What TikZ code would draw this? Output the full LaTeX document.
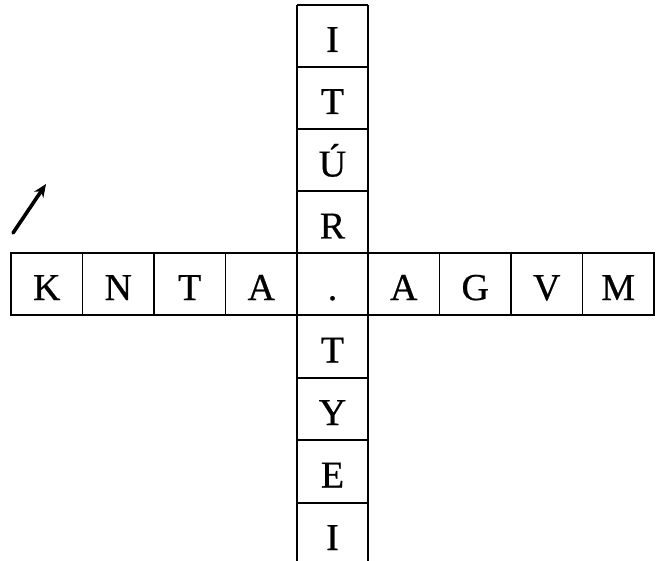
\documentclass[tikz,border=0pt]{standalone}
\usepackage{fontspec}
\setmainfont{Liberation Serif}[FakeBold=0.6]
\usetikzlibrary{arrows.meta}
\begin{document}
\begin{tikzpicture}[x=1pt,y=-1pt,
  grid/.style={line width=1.3pt, black},
  letter/.style={anchor=base, inner sep=0pt, font=\fontsize{38}{42}\selectfont},
  pointer/.style={line width=3.6pt, line cap=round, -{Stealth[length=13pt,width=11pt]}}]
\useasboundingbox (0,0) rectangle (658,561);
% horizontal word
\draw[grid] (11,253) rectangle (654,315);
\foreach \x in {82.5,154,225.5,297,368,439.5,511,582.5} \draw[grid] (\x,253) -- (\x,315);
% vertical word
\draw[grid] (297,5) -- (297,561);
\draw[grid] (368,5) -- (368,561);
\foreach \y in {5,67,129,191,378,440,503} \draw[grid] (297,\y) -- (368,\y);
% letters of the row (baseline at 300)
\node[letter] (r1) at (46.75,300) {K};
\node[letter] (r2) at (118.25,300) {N};
\node[letter] (r3) at (189.75,300) {T};
\node[letter] (r4) at (261.25,300) {A};
\node[letter] (c0) at (332.5,300) {.};
\node[letter] (r6) at (403.75,300) {A};
\node[letter] (r7) at (475.25,300) {G};
\node[letter] (r8) at (546.75,300) {V};
\node[letter] (r9) at (618.25,300) {M};
% letters of the column
\node[letter] (c1) at (332.5,52) {I};
\node[letter] (c2) at (332.5,114) {T};
\node[letter] (c3) at (332.5,176.5) {Ú};
\node[letter] (c4) at (332.5,238.5) {R};
\node[letter] (c6) at (332.5,362.5) {T};
\node[letter] (c7) at (332.5,425) {Y};
\node[letter] (c8) at (332.5,487.5) {E};
\node[letter] (c9) at (332.5,550) {I};
% arrow
\coordinate (atail) at (13,233);
\coordinate (ahead) at (46,184);
\draw[pointer] (atail) -- (ahead);
\end{tikzpicture}
\end{document}
